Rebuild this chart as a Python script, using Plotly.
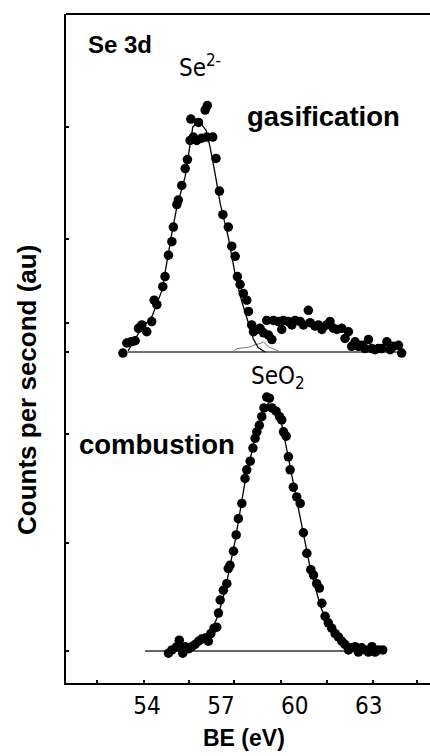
import plotly.graph_objects as go

# ---------------- data ----------------
# Gasification spectrum (top), counts in arbitrary units
gas_be = [53.02, 53.18, 53.35, 53.52, 53.65, 53.79, 53.99, 54.19, 54.29, 54.40,
          54.64, 54.73, 54.87, 55.01, 55.07, 55.21, 55.27, 55.41, 55.55, 55.64,
          55.75, 55.78, 55.88, 56.02, 56.09, 56.22, 56.36, 56.45, 56.43, 56.67,
          56.80, 56.94, 57.08, 57.30, 57.44, 57.58, 57.67, 57.78, 57.91, 58.05,
          58.12, 58.25, 58.32, 58.46, 58.59, 58.73, 58.86, 58.93, 59.07, 59.13,
          59.33, 59.47, 59.54, 59.74, 59.88, 60.01, 60.22, 60.35, 60.55, 60.62,
          60.82, 60.96, 61.10, 61.30, 61.43, 61.57, 61.71, 61.91, 62.04, 62.18,
          62.31, 62.45, 62.58, 62.72, 62.85, 62.99, 63.13, 63.26, 63.39, 63.53,
          63.74, 63.87, 64.00, 64.21, 64.34]
gas_cps = [-0.01, 0.08, 0.09, 0.10, 0.21, 0.24, 0.18, 0.27, 0.46, 0.42,
           0.58, 0.67, 0.86, 0.98, 1.11, 1.31, 1.35, 1.48, 1.63, 1.71,
           1.88, 2.07, 1.91, 1.88, 2.04, 1.90, 2.15, 2.19, 1.91, 1.91,
           1.72, 1.43, 1.22, 1.11, 0.94, 0.85, 0.67, 0.60, 0.52, 0.46,
           0.36, 0.24, 0.18, 0.20, 0.21, 0.17, 0.28, 0.15, 0.11, 0.28,
           0.27, 0.20, 0.28, 0.27, 0.24, 0.28, 0.27, 0.24, 0.37, 0.26,
           0.23, 0.24, 0.20, 0.24, 0.27, 0.21, 0.20, 0.21, 0.12, 0.18,
           0.05, 0.09, 0.05, 0.06, 0.03, 0.11, 0.03, 0.02, 0.03, 0.03,
           0.09, 0.02, 0.05, 0.06, -0.01]

# Gasification fitted envelope (Se2- peak)
gas_fit_be = [53.23, 53.72, 54.21, 54.61, 54.98, 55.21, 55.55, 55.75, 55.86, 56.02,
              56.22, 56.40, 56.56, 56.76, 56.97, 57.30, 57.62, 57.86, 58.10, 58.31,
              58.51, 58.79]
gas_fit_cps = [0.01, 0.19, 0.32, 0.55, 1.02, 1.29, 1.56, 1.82, 2.00, 2.03,
               2.02, 1.97, 1.82, 1.59, 1.32, 1.02, 0.64, 0.44, 0.26, 0.12,
               0.04, 0.00]

# Gasification small component and background
gas_comp_be = [57.51, 57.65, 58.19, 58.32, 58.59, 58.73, 58.93, 59.20, 59.33]
gas_comp_cps = [0.01, 0.03, 0.045, 0.06, 0.075, 0.09, 0.045, 0.025, 0.01]
gas_bg_be = [53.23, 64.34]
gas_bg_cps = [0.0, 0.0]

# Combustion spectrum (bottom)
comb_be = [54.87, 55.01, 55.21, 55.31, 55.45, 55.55, 55.68, 55.82, 55.95, 56.09,
           56.22, 56.36, 56.49, 56.59, 56.72, 56.83, 56.90, 56.97, 57.10, 57.24,
           57.30, 57.37, 57.51, 57.62, 57.71, 57.85, 57.98, 58.05, 58.19, 58.30,
           58.39, 58.46, 58.56, 58.66, 58.75, 58.86, 58.97, 59.07, 59.24, 59.38,
           59.47, 59.54, 59.65, 59.74, 59.81, 59.94, 60.08, 60.22, 60.35, 60.49,
           60.65, 60.76, 60.89, 61.00, 61.10, 61.23, 61.36, 61.50, 61.64, 61.77,
           61.91, 62.04, 62.18, 62.31, 62.45, 62.58, 62.72, 62.85, 62.99, 63.13,
           63.26, 63.39, 63.57]
comb_cps = [-0.02, 0.01, 0.04, 0.10, -0.02, 0.04, 0.02, 0.04, 0.06, 0.09,
            0.11, 0.12, 0.09, 0.16, 0.21, 0.22, 0.35, 0.47, 0.56, 0.62,
            0.76, 0.79, 0.92, 1.07, 1.22, 1.36, 1.59, 1.67, 1.75, 1.87,
            1.96, 2.02, 2.08, 2.16, 2.24, 2.34, 2.33, 2.24, 2.21, 2.16,
            2.13, 2.02, 1.98, 1.79, 1.67, 1.51, 1.42, 1.36, 1.09, 0.90,
            0.75, 0.70, 0.62, 0.58, 0.44, 0.32, 0.26, 0.21, 0.16, 0.13,
            0.09, 0.06, 0.01, 0.03, 0.04, -0.01, 0.03, 0.01, -0.01, 0.04,
            -0.01, 0.01, 0.01]

comb_fit_be = [54.94, 55.75, 56.16, 56.56, 56.89, 57.17, 57.58, 57.98, 58.39, 58.67,
               58.92, 59.16, 59.48, 59.81, 60.22, 60.62, 61.03, 61.43, 61.84, 62.25,
               62.65]
comb_fit_cps = [0.005, 0.03, 0.07, 0.16, 0.33, 0.56, 1.02, 1.56, 1.97, 2.19,
                2.28, 2.25, 2.08, 1.71, 1.25, 0.77, 0.42, 0.19, 0.07, 0.02,
                0.0]
comb_bg_be = [53.92, 63.5]
comb_bg_cps = [0.0, 0.0]

x_tick_vals = [54, 57, 60, 63]
x_tick_text = ["54", "57", "60", "63"]
x_minor_vals = [51.97, 53.88, 55.71, 57.54, 59.44, 61.31, 63.18, 64.96]
y_tick_vals = [0, 1, 2]
y2_tick_vals = [0, 0.26, 1, 2]

# ---------------- figure ----------------
BOLD = "Liberation Sans, Arial, sans-serif"
NARROW = "Liberation Sans Narrow, Arial Narrow, DejaVu Sans Condensed, sans-serif"
DOT = 9.5

fig = go.Figure()

# combustion (y)
fig.add_trace(go.Scatter(x=comb_bg_be, y=comb_bg_cps, mode="lines",
                         line=dict(color="#333333", width=1.3), yaxis="y"))
fig.add_trace(go.Scatter(x=comb_be, y=comb_cps, mode="markers",
                         marker=dict(color="black", size=DOT), yaxis="y", cliponaxis=False))
fig.add_trace(go.Scatter(x=comb_fit_be, y=comb_fit_cps, mode="lines",
                         line=dict(color="black", width=1.3), yaxis="y"))

# gasification (y2)
fig.add_trace(go.Scatter(x=gas_bg_be, y=gas_bg_cps, mode="lines",
                         line=dict(color="#444444", width=1.6), yaxis="y2"))
fig.add_trace(go.Scatter(x=gas_comp_be, y=gas_comp_cps, mode="lines",
                         line=dict(color="#777777", width=1), yaxis="y2"))
fig.add_trace(go.Scatter(x=gas_be, y=gas_cps, mode="markers",
                         marker=dict(color="black", size=DOT), yaxis="y2", cliponaxis=False))
fig.add_trace(go.Scatter(x=gas_fit_be, y=gas_fit_cps, mode="lines",
                         line=dict(color="black", width=1.3), yaxis="y2"))

fig.update_layout(
    width=430, height=756,
    margin=dict(l=66, r=0, t=14, b=73),
    paper_bgcolor="white", plot_bgcolor="white",
    showlegend=False,
    xaxis=dict(range=[50.71, 65.49], showgrid=False, zeroline=False,
               showline=True, linecolor="black", linewidth=2,
               tickmode="array", tickvals=x_tick_vals, ticktext=x_tick_text,
               ticks="", ticklabelstandoff=0,
               tickfont=dict(family=NARROW, size=24, color="black"),
               minor=dict(tickmode="array", tickvals=x_minor_vals, ticks="inside",
                          ticklen=3, tickwidth=1.5, tickcolor="black", showgrid=False)),
    yaxis=dict(range=[-0.2949, 5.871], showgrid=False, zeroline=False,
               showline=True, linecolor="black", linewidth=2,
               tickmode="array", tickvals=y_tick_vals, ticks="inside",
               ticklen=3, tickwidth=1.5, tickcolor="black", showticklabels=False),
    yaxis2=dict(range=[-2.942, 3.004], overlaying="y", side="left", anchor="x",
                showgrid=False, zeroline=False, showline=False,
                tickmode="array", tickvals=y2_tick_vals, ticks="inside",
                ticklen=3, tickwidth=1.5, tickcolor="black", showticklabels=False),
    shapes=[dict(type="line", xref="paper", yref="paper", x0=0, x1=1, y0=1, y1=1,
                 line=dict(color="black", width=2))],
)

ann = [
    dict(text="Se 3d", x=0.0549, y=0.9537, xanchor="left", yanchor="middle",
         font=dict(family=BOLD, size=24, color="black", weight="bold")),
    dict(text="Se<sup>2-</sup>", x=0.3049, y=0.8954, xanchor="left", yanchor="bottom",
         font=dict(family=NARROW, size=24, color="black")),
    dict(text="gasification", x=0.4918, y=0.8475, xanchor="left", yanchor="middle",
         font=dict(family=BOLD, size=27.5, color="black", weight="bold")),
    dict(text="combustion", x=0.0302, y=0.3558, xanchor="left", yanchor="middle",
         font=dict(family=BOLD, size=27.5, color="black", weight="bold")),
    dict(text="SeO<sub>2</sub>", x=0.5030, y=0.456, xanchor="left", yanchor="middle",
         font=dict(family=NARROW, size=24, color="black")),
    dict(text="BE (eV)", x=0.4890, y=-0.0822, xanchor="center", yanchor="middle",
         font=dict(family=BOLD, size=23, color="black", weight="bold")),
    dict(text="Counts per second (au)", x=-0.1071, y=0.438, xanchor="center",
         yanchor="middle", textangle=-90,
         font=dict(family=BOLD, size=26, color="black", weight="bold")),
]
for a in ann:
    a.update(xref="paper", yref="paper", showarrow=False)
fig.update_layout(annotations=ann)

fig.write_html("out.html")
